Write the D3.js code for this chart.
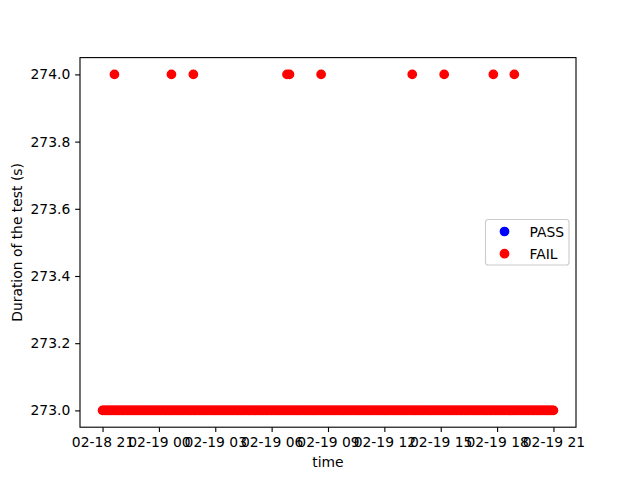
<!DOCTYPE html>
<html>
<head>
<meta charset="utf-8">
<script src="https://cdn.jsdelivr.net/npm/d3@7"></script>
<style>
  html, body { margin: 0; padding: 0; background: #fff; }
  svg { display: block; }
  text { font-family: "DejaVu Sans", sans-serif; }
</style>
</head>
<body>
<svg id="chart" width="640" height="480"></svg>
<script>
// ---- Data ----
const seriesNames = ["PASS", "FAIL"];
const seriesColors = ["#0000ff", "#ff0000"];
const passTimes = [];
const passValues = [];
// FAIL tests lasting 273 s (dense run, every ~5 min)
const fail273Times = [
  "02-18 21:00","02-18 21:05","02-18 21:10","02-18 21:15","02-18 21:20","02-18 21:25","02-18 21:30","02-18 21:35","02-18 21:40","02-18 21:45","02-18 21:50","02-18 21:55",
  "02-18 22:00","02-18 22:05","02-18 22:10","02-18 22:15","02-18 22:20","02-18 22:25","02-18 22:30","02-18 22:35","02-18 22:40","02-18 22:45","02-18 22:50","02-18 22:55",
  "02-18 23:00","02-18 23:05","02-18 23:10","02-18 23:15","02-18 23:20","02-18 23:25","02-18 23:30","02-18 23:35","02-18 23:40","02-18 23:45","02-18 23:50","02-18 23:55",
  "02-19 00:00","02-19 00:05","02-19 00:10","02-19 00:15","02-19 00:20","02-19 00:25","02-19 00:30","02-19 00:35","02-19 00:40","02-19 00:45","02-19 00:50","02-19 00:55",
  "02-19 01:00","02-19 01:05","02-19 01:10","02-19 01:15","02-19 01:20","02-19 01:25","02-19 01:30","02-19 01:35","02-19 01:40","02-19 01:45","02-19 01:50","02-19 01:55",
  "02-19 02:00","02-19 02:05","02-19 02:10","02-19 02:15","02-19 02:20","02-19 02:25","02-19 02:30","02-19 02:35","02-19 02:40","02-19 02:45","02-19 02:50","02-19 02:55",
  "02-19 03:00","02-19 03:05","02-19 03:10","02-19 03:15","02-19 03:20","02-19 03:25","02-19 03:30","02-19 03:35","02-19 03:40","02-19 03:45","02-19 03:50","02-19 03:55",
  "02-19 04:00","02-19 04:05","02-19 04:10","02-19 04:15","02-19 04:20","02-19 04:25","02-19 04:30","02-19 04:35","02-19 04:40","02-19 04:45","02-19 04:50","02-19 04:55",
  "02-19 05:00","02-19 05:05","02-19 05:10","02-19 05:15","02-19 05:20","02-19 05:25","02-19 05:30","02-19 05:35","02-19 05:40","02-19 05:45","02-19 05:50","02-19 05:55",
  "02-19 06:00","02-19 06:05","02-19 06:10","02-19 06:15","02-19 06:20","02-19 06:25","02-19 06:30","02-19 06:35","02-19 06:40","02-19 06:45","02-19 06:50","02-19 06:55",
  "02-19 07:00","02-19 07:05","02-19 07:10","02-19 07:15","02-19 07:20","02-19 07:25","02-19 07:30","02-19 07:35","02-19 07:40","02-19 07:45","02-19 07:50","02-19 07:55",
  "02-19 08:00","02-19 08:05","02-19 08:10","02-19 08:15","02-19 08:20","02-19 08:25","02-19 08:30","02-19 08:35","02-19 08:40","02-19 08:45","02-19 08:50","02-19 08:55",
  "02-19 09:00","02-19 09:05","02-19 09:10","02-19 09:15","02-19 09:20","02-19 09:25","02-19 09:30","02-19 09:35","02-19 09:40","02-19 09:45","02-19 09:50","02-19 09:55",
  "02-19 10:00","02-19 10:05","02-19 10:10","02-19 10:15","02-19 10:20","02-19 10:25","02-19 10:30","02-19 10:35","02-19 10:40","02-19 10:45","02-19 10:50","02-19 10:55",
  "02-19 11:00","02-19 11:05","02-19 11:10","02-19 11:15","02-19 11:20","02-19 11:25","02-19 11:30","02-19 11:35","02-19 11:40","02-19 11:45","02-19 11:50","02-19 11:55",
  "02-19 12:00","02-19 12:05","02-19 12:10","02-19 12:15","02-19 12:20","02-19 12:25","02-19 12:30","02-19 12:35","02-19 12:40","02-19 12:45","02-19 12:50","02-19 12:55",
  "02-19 13:00","02-19 13:05","02-19 13:10","02-19 13:15","02-19 13:20","02-19 13:25","02-19 13:30","02-19 13:35","02-19 13:40","02-19 13:45","02-19 13:50","02-19 13:55",
  "02-19 14:00","02-19 14:05","02-19 14:10","02-19 14:15","02-19 14:20","02-19 14:25","02-19 14:30","02-19 14:35","02-19 14:40","02-19 14:45","02-19 14:50","02-19 14:55",
  "02-19 15:00","02-19 15:05","02-19 15:10","02-19 15:15","02-19 15:20","02-19 15:25","02-19 15:30","02-19 15:35","02-19 15:40","02-19 15:45","02-19 15:50","02-19 15:55",
  "02-19 16:00","02-19 16:05","02-19 16:10","02-19 16:15","02-19 16:20","02-19 16:25","02-19 16:30","02-19 16:35","02-19 16:40","02-19 16:45","02-19 16:50","02-19 16:55",
  "02-19 17:00","02-19 17:05","02-19 17:10","02-19 17:15","02-19 17:20","02-19 17:25","02-19 17:30","02-19 17:35","02-19 17:40","02-19 17:45","02-19 17:50","02-19 17:55",
  "02-19 18:00","02-19 18:05","02-19 18:10","02-19 18:15","02-19 18:20","02-19 18:25","02-19 18:30","02-19 18:35","02-19 18:40","02-19 18:45","02-19 18:50","02-19 18:55",
  "02-19 19:00","02-19 19:05","02-19 19:10","02-19 19:15","02-19 19:20","02-19 19:25","02-19 19:30","02-19 19:35","02-19 19:40","02-19 19:45","02-19 19:50","02-19 19:55",
  "02-19 20:00","02-19 20:05","02-19 20:10","02-19 20:15","02-19 20:20","02-19 20:25","02-19 20:30","02-19 20:35","02-19 20:40","02-19 20:45","02-19 20:50","02-19 20:55",
  "02-19 21:00"
];
const fail273Value = 273.0;
// FAIL tests lasting 274 s
const fail274Times = [
  "02-18 21:38","02-19 00:40","02-19 01:50","02-19 06:49","02-19 06:57",
  "02-19 08:38","02-19 13:29","02-19 15:11","02-19 17:48","02-19 18:55"
];
const fail274Value = 274.0;
const yTickValues = [273.0, 273.2, 273.4, 273.6, 273.8, 274.0];
const xLabel = "time";
const yLabel = "Duration of the test (s)";

// ---- Build ----
const parse = d3.timeParse("%m-%d %H:%M");
const failPoints = fail273Times.map(t => ({t: parse(t), v: fail273Value}))
  .concat(fail274Times.map(t => ({t: parse(t), v: fail274Value})));
const passPoints = passTimes.map((t, i) => ({t: parse(t), v: passValues[i]}));
const allPts = failPoints.concat(passPoints);

const svg = d3.select("#chart");
const L = 80, R = 576, T = 57.6, B = 427.2;

const tExt = d3.extent(allPts, d => +d.t);
const tPad = (tExt[1] - tExt[0]) * 0.05;
const x = d3.scaleTime().domain([new Date(tExt[0] - tPad), new Date(tExt[1] + tPad)]).range([L, R]);
const vExt = d3.extent(allPts, d => d.v);
const vPad = (vExt[1] - vExt[0]) * 0.05;
const y = d3.scaleLinear().domain([vExt[0] - vPad, vExt[1] + vPad]).range([B, T]);

const fs = 13.89;
const tickLen = 4.86;

// points
const r = 4.17;
const g = svg.append("g");
g.selectAll("circle.pass").data(passPoints).enter().append("circle")
  .attr("cx", d => x(d.t)).attr("cy", d => y(d.v)).attr("r", r)
  .attr("fill", seriesColors[0]).attr("stroke", seriesColors[0]).attr("stroke-width", 1.39);
g.selectAll("circle.fail").data(failPoints).enter().append("circle")
  .attr("cx", d => x(d.t)).attr("cy", d => y(d.v)).attr("r", r)
  .attr("fill", seriesColors[1]).attr("stroke", seriesColors[1]).attr("stroke-width", 1.39);

// axes
const xAxis = d3.axisBottom(x).ticks(d3.timeHour.every(3)).tickFormat(d3.timeFormat("%m-%d %H"))
  .tickSizeInner(tickLen).tickSizeOuter(0).tickPadding(4.86);
const yAxis = d3.axisLeft(y).tickValues(yTickValues).tickFormat(d3.format(".1f"))
  .tickSizeInner(tickLen).tickSizeOuter(0).tickPadding(4.86);

const gx = svg.append("g").attr("transform", `translate(0,${B})`).call(xAxis);
const gy = svg.append("g").attr("transform", `translate(${L},0)`).call(yAxis);
[gx, gy].forEach(a => {
  a.select(".domain").remove();
  a.selectAll(".tick line").attr("stroke", "#000").attr("stroke-width", 1.11);
  a.selectAll(".tick text").attr("fill", "#000").style("font-size", fs + "px")
    .style("font-family", "'DejaVu Sans', sans-serif");
});
gx.selectAll(".tick text").attr("dy", "0.71em");

// frame
svg.append("rect").attr("x", L).attr("y", T).attr("width", R - L).attr("height", B - T)
  .attr("fill", "none").attr("stroke", "#000").attr("stroke-width", 1.11);

// labels
svg.append("text").attr("x", (L + R) / 2).attr("y", 467).attr("text-anchor", "middle")
  .style("font-size", fs + "px").text(xLabel);
svg.append("text").attr("transform", `translate(22,${(T + B) / 2}) rotate(-90)`)
  .attr("text-anchor", "middle").style("font-size", fs + "px").text(yLabel);

// legend
const lg = svg.append("g");
lg.append("rect").attr("x", 485.5).attr("y", 219.5).attr("width", 83.5).attr("height", 45.5)
  .attr("rx", 2.8).attr("fill", "#fff").attr("fill-opacity", 0.8)
  .attr("stroke", "#cccccc").attr("stroke-width", 1.11);
seriesNames.forEach((name, i) => {
  const cy = 231.5 + i * 22.2;
  lg.append("circle").attr("cx", 504.5).attr("cy", cy).attr("r", r)
    .attr("fill", seriesColors[i]).attr("stroke", seriesColors[i]).attr("stroke-width", 1.39);
  lg.append("text").attr("x", 529.5).attr("y", cy).attr("dy", "0.36em")
    .style("font-size", fs + "px").text(name);
});
</script>
</body>
</html>
